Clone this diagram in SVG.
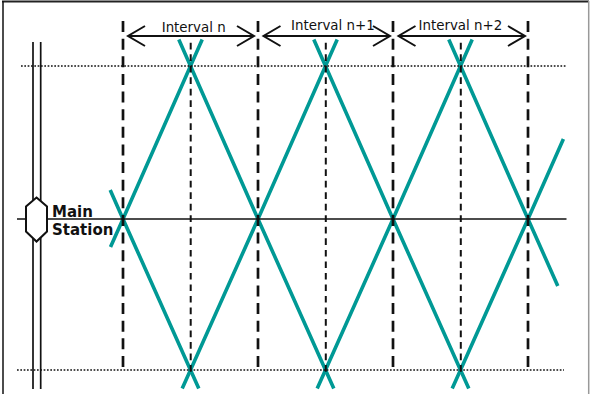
<svg xmlns="http://www.w3.org/2000/svg" width="590" height="394" viewBox="0 0 590 394">
  <style>
    .teal { fill: none; stroke: #009995; stroke-width: 3.6; stroke-linejoin: round; }
    .bound { stroke: #111; stroke-width: 2.7; stroke-dasharray: 11 6.63; }
    .mid { stroke: #111; stroke-width: 2; stroke-dasharray: 6.7 4.81; }
    .dot { stroke: #111; stroke-width: 1.7; stroke-dasharray: 1.7 1.63; }
    .track { stroke: #111; stroke-width: 1.7; }
    .arrow { fill: none; stroke: #111; stroke-width: 2; }
    .lbl { font-family: "DejaVu Sans", Verdana, sans-serif; font-size: 13.4px; fill: #111; }
    .stn { font-family: "DejaVu Sans", Verdana, sans-serif; font-size: 15px; font-weight: bold; fill: #111; }
  </style>
  <rect width="590" height="394" fill="#fff"/>
  <g id="frame">
    <line x1="2" y1="1.5" x2="589" y2="1.5" stroke="#222" stroke-width="2"/>
    <line x1="3" y1="1" x2="3" y2="394" stroke="#111" stroke-width="1.5"/>
    <line x1="588.7" y1="1" x2="588.7" y2="394" stroke="#999" stroke-width="1.5"/>
  </g>
  <g id="train-paths">
    <polyline class="teal" points="110.2,190 123,219 190.5,370 198.8,388.5"/>
    <polyline class="teal" points="178.8,39.5 190.5,66 258,219 325.5,370 333.8,388.5"/>
    <polyline class="teal" points="313.8,39.5 325.5,66 393,219 460.5,370 468.8,388.5"/>
    <polyline class="teal" points="448.8,39.5 460.5,66 528,219 557.8,286"/>
    <polyline class="teal" points="110.5,247 123,219 190.5,66 202.2,39.5"/>
    <polyline class="teal" points="182.2,388.5 190.5,370 258,219 325.5,66 337.2,39.5"/>
    <polyline class="teal" points="317.2,388.5 325.5,370 393,219 460.5,66 472.2,39.5"/>
    <polyline class="teal" points="452.2,388.5 460.5,370 528,219 563.4,139"/>
  </g>
  <g id="connectors">
    <line class="dot" x1="21" y1="66" x2="567" y2="66"/>
    <line class="dot" x1="17" y1="370" x2="564" y2="370"/>
    <line class="bound" x1="123" y1="21" x2="123" y2="367"/>
    <line class="bound" x1="258" y1="21" x2="258" y2="367"/>
    <line class="bound" x1="393" y1="21" x2="393" y2="367"/>
    <line class="bound" x1="528" y1="21" x2="528" y2="367"/>
    <line class="mid" x1="190.7" y1="42.7" x2="190.7" y2="371.7"/>
    <line class="mid" x1="325.8" y1="42.7" x2="325.8" y2="371.7"/>
    <line class="mid" x1="460.8" y1="42.7" x2="460.8" y2="371.7"/>
    <line x1="17" y1="219" x2="566.5" y2="219" stroke="#111" stroke-width="1.7"/>
  </g>
  <g id="interval-n">
    <line class="arrow" x1="128" y1="36" x2="254" y2="36"/>
    <polyline class="arrow" points="145,26 128,36 145,46"/>
    <polyline class="arrow" points="237,26 254,36 237,46"/>
    <text class="lbl" x="161.7" y="31.5">Interval n</text>
  </g>
  <g id="interval-n1">
    <line class="arrow" x1="263.5" y1="36" x2="390" y2="36"/>
    <polyline class="arrow" points="280.5,26 263.5,36 280.5,46"/>
    <polyline class="arrow" points="373,26 390,36 373,46"/>
    <text class="lbl" x="291" y="29.5">Interval n+1</text>
  </g>
  <g id="interval-n2">
    <line class="arrow" x1="398.5" y1="36" x2="525" y2="36"/>
    <polyline class="arrow" points="415.5,26 398.5,36 415.5,46"/>
    <polyline class="arrow" points="508,26 525,36 508,46"/>
    <text class="lbl" x="418.5" y="29.5">Interval n+2</text>
  </g>
  <g id="main-station">
    <line class="track" x1="33" y1="42" x2="33" y2="389"/>
    <line class="track" x1="40.7" y1="42" x2="40.7" y2="389"/>
    <polygon points="36.5,197.5 47,206.5 47,231.5 36.5,241.5 26,231.5 26,206.5" fill="#fff" stroke="#111" stroke-width="2"/>
    <text class="stn" x="52" y="216.5">Main</text>
    <text class="stn" x="52" y="235">Station</text>
  </g>
</svg>
